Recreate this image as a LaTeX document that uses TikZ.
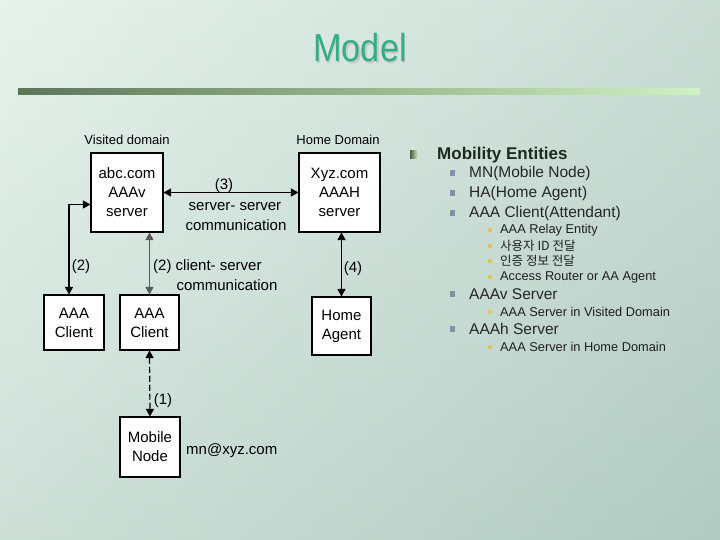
\documentclass[tikz,border=0pt]{standalone}
\usepackage{fontspec}
\usepackage{graphicx}
\setmainfont{Liberation Sans}
\newfontfamily\krfont{Noto Sans CJK KR}
\usetikzlibrary{arrows.meta}

\definecolor{bgtop}{HTML}{E6F3EC}
\definecolor{bgbot}{HTML}{B9D1C8}
\definecolor{bgright}{HTML}{A9C3BA}
\definecolor{titlegreen}{HTML}{34AC88}
\definecolor{bardark}{HTML}{5C7656}
\definecolor{barlight}{HTML}{CFF3C4}
\definecolor{headdark}{HTML}{1E2A20}
\definecolor{bulletblue}{HTML}{8191A6}
\definecolor{bulletgold}{HTML}{E2C25E}

\tikzset{
  entity/.style={draw, fill=white, line width=1.1pt, align=center, inner sep=0pt,
    font=\fontsize{15}{19}\selectfont},
  lbl/.style={inner sep=0pt, font=\fontsize{15}{18}\selectfont},
  domainlbl/.style={inner sep=0pt, font=\fontsize{13}{16}\selectfont},
  msgarrow/.style={line width=1.2pt,
    {Triangle[length=7.5pt,width=8pt]}-{Triangle[length=7.5pt,width=8pt]}},
  itemtwo/.style={anchor=west, inner sep=0pt, text=black!85,
    font=\fontsize{15.5}{18}\selectfont},
  itemthree/.style={anchor=west, inner sep=0pt, text=black!88,
    font=\fontsize{12.8}{15}\selectfont},
}

\begin{document}
\begin{tikzpicture}[x=1pt,y=-1pt]

    % ================= BACKGROUND =================
    \shade[top color=bgtop, bottom color=bgbot] (0,0) rectangle (720,540);
    \shade[left color=bgtop, right color=bgright, opacity=0.45] (0,0) rectangle (720,540);
    \useasboundingbox (0,0) rectangle (720,540);

    % Title with shadow
    \node[font=\fontsize{39}{39}\selectfont, text=black!22] (titleshadow) at (361.2,49.2)
        {\scalebox{0.88}[1]{Model}};
    \node[font=\fontsize{39}{39}\selectfont, text=titlegreen] (title) at (360,48)
        {\scalebox{0.88}[1]{Model}};

    % Gradient bar under the title
    \shade[left color=bardark, right color=barlight] (18,89) rectangle (700,95);

    % ================= DIAGRAM =================
    \node[domainlbl] (visited) at (127,140) {Visited domain};
    \node[domainlbl] (home)    at (338,140) {Home Domain};

    % Servers
    \node[entity, minimum width=72pt, minimum height=79pt] (av)  at (127,192.5) {abc.com\\AAAv\\server};
    \node[entity, minimum width=81pt, minimum height=79pt] (xyz) at (339.5,192.5) {Xyz.com\\AAAH\\server};

    % Clients and agents
    \node[entity, minimum width=60pt, minimum height=55pt] (cl1) at (74,322.5)  {AAA\\Client};
    \node[entity, minimum width=59pt, minimum height=55pt] (cl2) at (149.5,322.5) {AAA\\Client};
    \node[entity, minimum width=59pt, minimum height=58pt] (ha)  at (341.5,326) {Home\\Agent};
    \node[entity, minimum width=60pt, minimum height=60pt] (mn)  at (150,447)   {Mobile\\Node};

    % Connectors
    \draw[msgarrow] (av.east) -- (xyz.west);
    \draw[msgarrow] ([xshift=-5pt]cl1.north) |- ([yshift=-12pt]av.west);
    \draw[msgarrow, draw=black!65, fill=black!65] (cl2.north) -- (cl2.north |- av.south);
    \draw[msgarrow] (ha.north) -- (ha.north |- xyz.south);
    \draw[msgarrow, dash pattern=on 6pt off 3pt] (cl2.south) -- (mn.north);

    % Connector labels
    \node[lbl] (lblthree) at (224,186) {(3)};
    \node[lbl] (lblss)    at (235,207) {server- server};
    \node[lbl] (lblsscom) at (236,225) {communication};
    \node[lbl] (lbltwoa)  at (81,267)  {(2)};
    \node[lbl, anchor=west] (lblcs) at (153,267) {(2) client- server};
    \node[lbl] (lblcscom) at (227,285) {communication};
    \node[lbl] (lblfour)  at (353,269) {(4)};
    \node[lbl] (lblone)   at (163,401) {(1)};
    \node[lbl, anchor=west] (mnaddr) at (186,451) {mn@xyz.com};

    % ================= ENTITY LIST =================
    \shade[left color=bardark!80!black, right color=barlight] (410,151) rectangle (418,159);
    \node[anchor=west, inner sep=0pt, text=headdark, font=\bfseries\fontsize{17}{20}\selectfont]
        (mobility) at (437,155) {Mobility Entities};

    % second level
    \foreach \y/\t [count=\i] in {173/MN(Mobile Node), 193/HA(Home Agent),
        213/AAA Client(Attendant), 294/AAAv Server, 329/AAAh Server} {
      \fill[bulletblue] (449.5,\y-2.75) rectangle ++(5.5,5.5);
      \node[itemtwo] (itemtwo-\i) at (469,\y) {\t};
    }

    % third level
    \foreach \y/\t [count=\i] in {230/AAA Relay Entity, 246/{\krfont\fontsize{12.5}{14}\selectfont 사용자 ID 전달},
        261/{\krfont\fontsize{12.5}{14}\selectfont 인증 정보 전달}, 277/Access Router or AA Agent,
        312/AAA Server in Visited Domain, 347/AAA Server in Home Domain} {
      \fill[bulletgold] (487.5,\y-2.25) rectangle ++(4.5,4.5);
      \node[itemthree] (itemthree-\i) at (500,\y) {\t};
    }

\end{tikzpicture}
\end{document}
